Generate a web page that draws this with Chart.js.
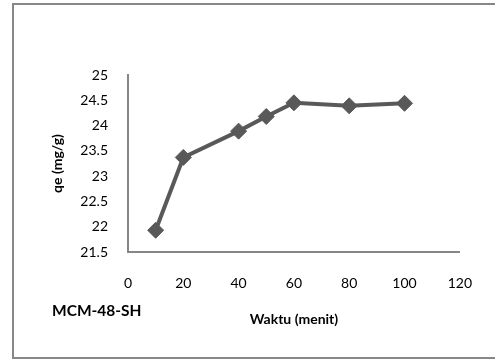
<!DOCTYPE html>
<html>
<head>
<meta charset="utf-8">
<script src="https://cdn.jsdelivr.net/npm/chart.js@4"></script>
<style>
    html, body { margin: 0; padding: 0; background: #fff; overflow: hidden; }
    #wrap { position: relative; width: 495px; height: 360px; }
    #frame {
        position: absolute; left: 12px; top: 3px; width: 500px; height: 352px;
        border: 2px solid #878787; border-right: none;
    }
    #chart { position: absolute; left: 0; top: 0; }
    #sample {
        position: absolute; left: 52px; top: 301px;
        font: bold 15.5px Lato, sans-serif; color: #000;
    }
</style>
</head>
<body>
<div id="wrap">
    <div id="frame"></div>
    <canvas id="chart" width="495" height="360"></canvas>
    <div id="sample">MCM-48-SH</div>
</div>
<script>
// waktu kontak (menit) dan kapasitas adsorpsi qe (mg/g)
const waktu = [10, 20, 40, 50, 60, 80, 100];
const qe = [21.93, 23.37, 23.89, 24.18, 24.45, 24.39, 24.44];

const grey = '#595959';
const axisGrey = '#868686';

document.addEventListener('DOMContentLoaded', function () {
    new Chart(document.getElementById('chart'), {
        type: 'line',
        data: {
            datasets: [{
                data: waktu.map((w, i) => ({ x: w, y: qe[i] })),
                borderColor: grey,
                backgroundColor: grey,
                borderWidth: 4,
                pointStyle: 'rectRot',
                pointRadius: 8,
                pointBorderWidth: 1,
                tension: 0
            }]
        },
        options: {
            responsive: false,
            animation: false,
            clip: false,
            layout: { padding: { top: 75, right: 28, left: 0, bottom: 18 } },
            plugins: { legend: { display: false }, tooltip: { enabled: false } },
            scales: {
                x: {
                    type: 'linear',
                    min: 0, max: 120,
                    afterFit: s => { s.height = 90; },
                    grid: { display: false, drawTicks: false },
                    border: { display: true, color: axisGrey, width: 2 },
                    ticks: { stepSize: 20, padding: 23, color: '#000', font: { family: 'Lato', size: 14 } },
                    title: {
                        display: true, text: 'Waktu (menit)', color: '#000',
                        padding: { top: 0, bottom: 14 },
                        font: { family: 'Lato', size: 14, weight: 'bold' }
                    }
                },
                y: {
                    min: 21.5, max: 25,
                    afterFit: s => { s.width = 128; },
                    grid: { display: false, drawTicks: false },
                    border: { display: true, color: axisGrey, width: 2 },
                    ticks: {
                        stepSize: 0.5, padding: 20, color: '#000',
                        font: { family: 'Lato', size: 14 },
                        callback: v => String(v)
                    },
                    title: {
                        display: true, text: 'qe (mg/g)', color: '#000',
                        padding: { top: 49, bottom: 0 },
                        font: { family: 'Lato', size: 14, weight: 'bold' }
                    }
                }
            }
        }
    });
});
</script>
</body>
</html>
